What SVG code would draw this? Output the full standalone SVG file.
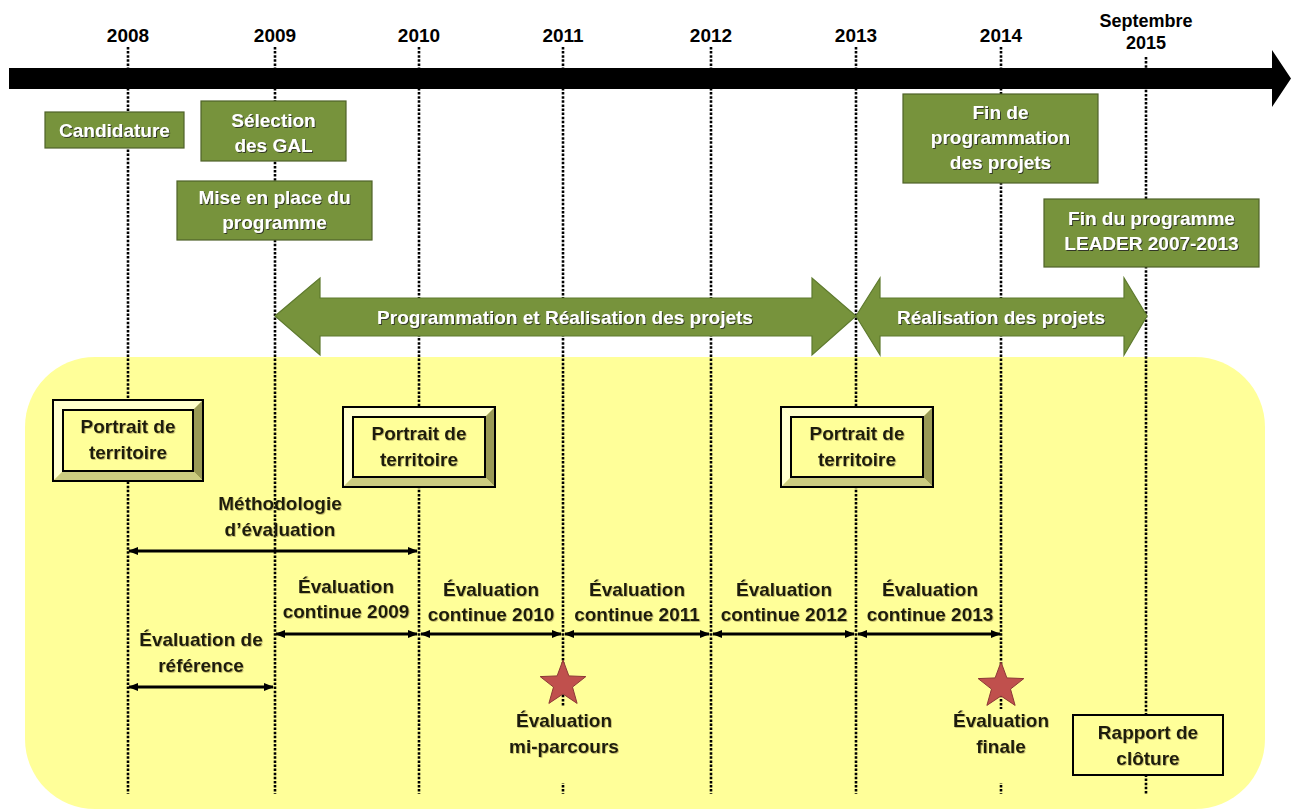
<svg xmlns="http://www.w3.org/2000/svg" xmlns:xlink="http://www.w3.org/1999/xlink" width="1291" height="810" viewBox="0 0 1291 810">
<defs>
<style>
text{font-family:"Liberation Sans",Arial,sans-serif;font-weight:bold;font-size:19px;text-anchor:middle}
.yr{fill:#000}
.gl{fill:#fff;filter:url(#sh)}
.dk{fill:#1b1b0a;filter:url(#sh2)}
.gb{fill:#77933C;stroke:#4F6228;stroke-width:1.2}
.ga{fill:#77933C;stroke:#5E7A2E;stroke-width:1.2}
.vl{stroke:#000;stroke-width:2.6;stroke-dasharray:2.5 1.6;fill:none}
.da{stroke:#000;stroke-width:3;fill:none;marker-start:url(#ah);marker-end:url(#ah)}
.bt{fill:#FFFFCC}.bl{fill:#FFFFD0}.br{fill:#9A9A55}.bb{fill:#CCCC80}
.bi{fill:#FFFF99;stroke:#000;stroke-width:2}
.bo{fill:none;stroke:#000;stroke-width:2}
.st{fill:#C0504D;stroke:#8C3836;stroke-width:1}
.lb{fill:#FFFF99}
</style>
<filter id="sh" x="-10%" y="-20%" width="120%" height="150%">
<feDropShadow dx="1" dy="1" stdDeviation="0.6" flood-color="#222" flood-opacity="0.8"/>
</filter>
<filter id="sh2" x="-10%" y="-20%" width="120%" height="150%">
<feDropShadow dx="0.8" dy="0.8" stdDeviation="0.5" flood-color="#8a7a40" flood-opacity="0.6"/>
</filter>
<marker id="ah" viewBox="0 0 10 10" refX="9" refY="5" markerWidth="10" markerHeight="10" markerUnits="userSpaceOnUse" orient="auto-start-reverse">
<path d="M0,1 L10,5 L0,9 z" fill="#000"/>
</marker>
<path id="star" d="M0,-24 L5.88,-8.09 L22.83,-7.42 L9.51,3.09 L14.11,19.42 L0,10 L-14.11,19.42 L-9.51,3.09 L-22.83,-7.42 L-5.88,-8.09 Z"/>
</defs>

<rect id="background" x="25" y="357" width="1240" height="452" rx="70" ry="70" fill="#FFFF99"/>

<g id="year-lines">
<line class="vl" x1="128" y1="47" x2="128" y2="794"/>
<line class="vl" x1="275" y1="47" x2="275" y2="794"/>
<line class="vl" x1="419" y1="47" x2="419" y2="794"/>
<line class="vl" x1="563" y1="47" x2="563" y2="794"/>
<line class="vl" x1="711" y1="47" x2="711" y2="794"/>
<line class="vl" x1="856" y1="47" x2="856" y2="794"/>
<line class="vl" x1="1001" y1="47" x2="1001" y2="794"/>
<line class="vl" x1="1146" y1="57" x2="1146" y2="794"/>
</g>

<g id="years">
<text class="yr" x="128" y="42">2008</text>
<text class="yr" x="275" y="42">2009</text>
<text class="yr" x="419" y="42">2010</text>
<text class="yr" x="563" y="42">2011</text>
<text class="yr" x="711" y="42">2012</text>
<text class="yr" x="856" y="42">2013</text>
<text class="yr" x="1001" y="42">2014</text>
<text class="yr" x="1146" y="27" style="font-size:18px">Septembre</text>
<text class="yr" x="1146" y="49" style="font-size:18px">2015</text>
</g>

<g id="timeline-arrow">
<polygon points="9,68 1272,68 1272,50 1291,78.5 1272,107 1272,89 9,89" fill="#000"/>
</g>

<g id="candidature">
<rect class="gb" x="45" y="112" width="139" height="36"/>
<text class="gl" x="114.5" y="137">Candidature</text>
</g>
<g id="selection-gal">
<rect class="gb" x="201" y="101" width="145" height="60"/>
<text class="gl" x="273.5" y="127">Sélection</text>
<text class="gl" x="273.5" y="152">des GAL</text>
</g>
<g id="mise-en-place">
<rect class="gb" x="177" y="181" width="195" height="59"/>
<text class="gl" x="274.5" y="204">Mise en place du</text>
<text class="gl" x="274.5" y="229">programme</text>
</g>
<g id="fin-programmation">
<rect class="gb" x="903" y="94" width="195" height="89"/>
<text class="gl" x="1000.5" y="119">Fin de</text>
<text class="gl" x="1000.5" y="144">programmation</text>
<text class="gl" x="1000.5" y="169">des projets</text>
</g>
<g id="fin-programme">
<rect class="gb" x="1044" y="199" width="215" height="68"/>
<text class="gl" x="1151.5" y="225">Fin du programme</text>
<text class="gl" x="1151.5" y="250">LEADER 2007-2013</text>
</g>

<g id="phase-programmation">
<polygon class="ga" points="275,316 320,278 320,298 812,298 812,278 856,316 812,355 812,336 320,336 320,355"/>
<text class="gl" x="565" y="324">Programmation et Réalisation des projets</text>
</g>
<g id="phase-realisation">
<polygon class="ga" points="856,316 880,278 880,298 1124,298 1124,278 1147,316 1124,355 1124,336 880,336 880,355"/>
<text class="gl" x="1001" y="324">Réalisation des projets</text>
</g>

<g id="portrait-2008">
<polygon class="bt" points="53,400 203,400 193,410 63,410"/>
<polygon class="bl" points="53,400 63,410 63,471 53,481"/>
<polygon class="br" points="203,400 203,481 193,471 193,410"/>
<polygon class="bb" points="53,481 203,481 193,471 63,471"/>
<rect class="bi" x="63" y="410" width="130" height="61"/>
<rect class="bo" x="53" y="400" width="150" height="81"/>
<text class="dk" x="128" y="433">Portrait de</text>
<text class="dk" x="128" y="459">territoire</text>
</g>
<g id="portrait-2010">
<polygon class="bt" points="343,407 495,407 485,417 353,417"/>
<polygon class="bl" points="343,407 353,417 353,477 343,487"/>
<polygon class="br" points="495,407 495,487 485,477 485,417"/>
<polygon class="bb" points="343,487 495,487 485,477 353,477"/>
<rect class="bi" x="353" y="417" width="132" height="60"/>
<rect class="bo" x="343" y="407" width="152" height="80"/>
<text class="dk" x="419" y="440">Portrait de</text>
<text class="dk" x="419" y="466">territoire</text>
</g>
<g id="portrait-2013">
<polygon class="bt" points="781,407 933,407 923,417 791,417"/>
<polygon class="bl" points="781,407 791,417 791,477 781,487"/>
<polygon class="br" points="933,407 933,487 923,477 923,417"/>
<polygon class="bb" points="781,487 933,487 923,477 791,477"/>
<rect class="bi" x="791" y="417" width="132" height="60"/>
<rect class="bo" x="781" y="407" width="152" height="80"/>
<text class="dk" x="857" y="440">Portrait de</text>
<text class="dk" x="857" y="466">territoire</text>
</g>

<g id="connectors">
<line class="da" x1="129" y1="551" x2="417" y2="551"/>
<line class="da" x1="276" y1="634" x2="417" y2="634"/>
<line class="da" x1="421" y1="634" x2="561" y2="634"/>
<line class="da" x1="565" y1="634" x2="709" y2="634"/>
<line class="da" x1="713" y1="634" x2="854" y2="634"/>
<line class="da" x1="858" y1="634" x2="1000" y2="634"/>
<line class="da" x1="129" y1="687" x2="273" y2="687"/>
</g>

<g id="methodologie">
<text class="dk" x="280" y="510">Méthodologie</text>
<text class="dk" x="280" y="536">d’évaluation</text>
</g>
<g id="eval-2009">
<text class="dk" x="346" y="593">Évaluation</text>
<text class="dk" x="346" y="618">continue 2009</text>
</g>
<g id="eval-2010">
<text class="dk" x="491" y="596">Évaluation</text>
<text class="dk" x="491" y="621">continue 2010</text>
</g>
<g id="eval-2011">
<text class="dk" x="637" y="596">Évaluation</text>
<text class="dk" x="637" y="621">continue 2011</text>
</g>
<g id="eval-2012">
<text class="dk" x="784" y="596">Évaluation</text>
<text class="dk" x="784" y="621">continue 2012</text>
</g>
<g id="eval-2013">
<text class="dk" x="930" y="596">Évaluation</text>
<text class="dk" x="930" y="621">continue 2013</text>
</g>
<g id="eval-reference">
<text class="dk" x="201" y="646">Évaluation de</text>
<text class="dk" x="201" y="672">référence</text>
</g>

<g id="eval-mi-parcours">
<rect class="lb" x="506" y="707" width="116" height="76"/>
<use xlink:href="#star" href="#star" class="st" x="563" y="684"/>
<text class="dk" x="564" y="727">Évaluation</text>
<text class="dk" x="564" y="753">mi-parcours</text>
</g>
<g id="eval-finale">
<rect class="lb" x="948" y="709" width="106" height="74"/>
<use xlink:href="#star" href="#star" class="st" x="1001" y="686"/>
<text class="dk" x="1001" y="727">Évaluation</text>
<text class="dk" x="1001" y="753">finale</text>
</g>

<g id="rapport-cloture">
<rect x="1073" y="715" width="150" height="60" fill="#FFFF99" stroke="#000" stroke-width="2"/>
<text class="dk" x="1148" y="739">Rapport de</text>
<text class="dk" x="1148" y="765">clôture</text>
</g>
</svg>
